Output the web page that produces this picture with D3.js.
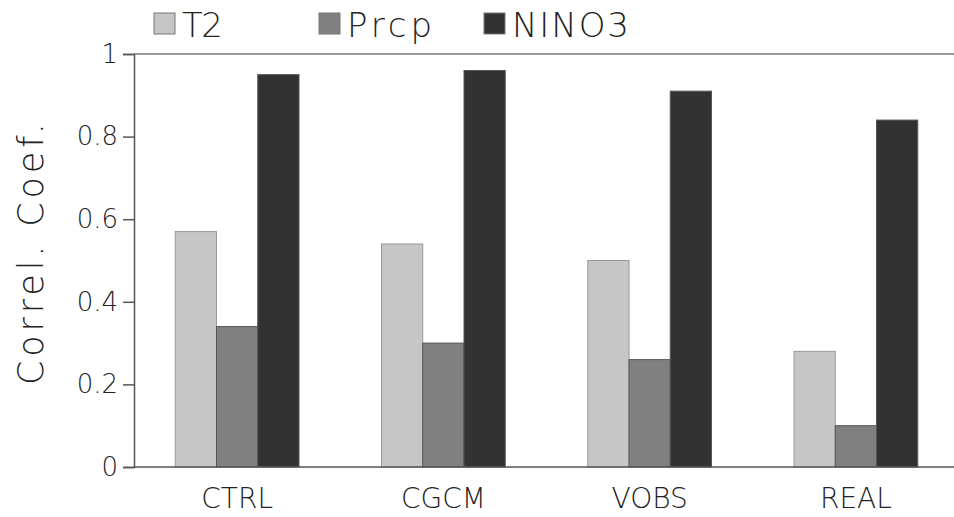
<!DOCTYPE html>
<html lang="en">
<head>
    <meta charset="UTF-8">
    <title>Correl. Coef.</title>
    <script src="https://d3js.org/d3.v7.min.js"></script>
    <style>
        html, body { margin: 0; background: #fff; }
        svg { display: block; }
        text { font-family: 'DejaVu Sans', sans-serif; font-weight: 200; fill: #222; }
    </style>
</head>
<body>
    <svg width="954" height="517"></svg>
    <script>
        // Data
        const categories = ["CTRL", "CGCM", "VOBS", "REAL"];
        const seriesNames = ["T2", "Prcp", "NINO3"];
        const t2 = [0.57, 0.54, 0.50, 0.28];
        const prcp = [0.34, 0.30, 0.26, 0.10];
        const nino3 = [0.95, 0.96, 0.91, 0.84];
        const yTicks = [0, 0.2, 0.4, 0.6, 0.8, 1];

        const seriesValues = [t2, prcp, nino3];
        const fills = ["#c6c6c6", "#808080", "#323232"];

        const svg = d3.select("svg");
        const mLeft = 134, mRight = 959, mTop = 54, mBottom = 467;

        const x = d3.scaleBand().domain(categories).range([mLeft, mRight])
            .paddingInner(0.4).paddingOuter(0.2);
        const xs = d3.scaleBand().domain(seriesNames).range([0, x.bandwidth()]);
        const y = d3.scaleLinear().domain([0, 1]).range([mBottom, mTop]);

        // top frame line
        svg.append("line")
            .attr("x1", mLeft).attr("x2", 954)
            .attr("y1", y(1)).attr("y2", y(1))
            .attr("stroke", "#777").attr("stroke-width", 1.5);

        // bars
        const group = svg.append("g")
            .selectAll("g")
            .data(categories)
            .enter().append("g")
            .attr("transform", d => `translate(${x(d)},0)`);

        group.selectAll("rect")
            .data((c, i) => seriesNames.map((s, j) => ({ s, v: seriesValues[j][i], j })))
            .enter().append("rect")
            .attr("x", d => xs(d.s))
            .attr("width", xs.bandwidth())
            .attr("y", d => y(d.v))
            .attr("height", d => y(0) - y(d.v))
            .attr("fill", d => fills[d.j])
            .attr("stroke", d => d.j === 0 ? "#999" : "#555")
            .attr("stroke-width", 1);

        // y axis
        const yAxis = svg.append("g")
            .attr("transform", `translate(${mLeft},0)`)
            .call(d3.axisLeft(y).tickValues(yTicks).tickSize(11).tickPadding(5)
                .tickFormat(d => d === 0 || d === 1 ? d3.format("d")(d) : d3.format(".1f")(d)));
        yAxis.select(".domain").attr("stroke", "#555").attr("stroke-width", 1.5);
        yAxis.selectAll(".tick line").attr("stroke", "#555").attr("stroke-width", 1.5);
        yAxis.selectAll(".tick text").attr("font-size", 26).attr("fill", "#222")
            .attr("font-family", "'DejaVu Sans', sans-serif");

        // x axis
        const xAxis = svg.append("g")
            .attr("transform", `translate(0,${mBottom})`)
            .call(d3.axisBottom(x).tickSize(0).tickPadding(21));
        xAxis.select(".domain").remove();
        xAxis.selectAll(".tick text").attr("font-size", 28).attr("fill", "#222")
            .attr("font-family", "'DejaVu Sans', sans-serif");
        svg.append("line")
            .attr("x1", mLeft).attr("x2", 954)
            .attr("y1", mBottom).attr("y2", mBottom)
            .attr("stroke", "#555").attr("stroke-width", 1.5);

        // y label
        svg.append("text")
            .attr("transform", `translate(43,254) rotate(-90)`)
            .attr("text-anchor", "middle")
            .attr("font-size", 35)
            .attr("textLength", 262)
            .attr("lengthAdjust", "spacing")
            .text("Correl. Coef.");

        // legend
        const legendX = [154, 319, 484];
        const legendW = [41, 85, 117];
        const legend = svg.append("g")
            .selectAll("g")
            .data(seriesNames)
            .enter().append("g")
            .attr("transform", (d, i) => `translate(${legendX[i]},13)`);
        legend.append("rect")
            .attr("width", 21).attr("height", 21)
            .attr("fill", (d, i) => fills[i])
            .attr("stroke", "#777");
        legend.append("text")
            .attr("x", 28).attr("y", 24)
            .attr("font-size", 34)
            .attr("textLength", (d, i) => legendW[i])
            .attr("lengthAdjust", "spacing")
            .text(d => d);
    </script>
</body>
</html>
